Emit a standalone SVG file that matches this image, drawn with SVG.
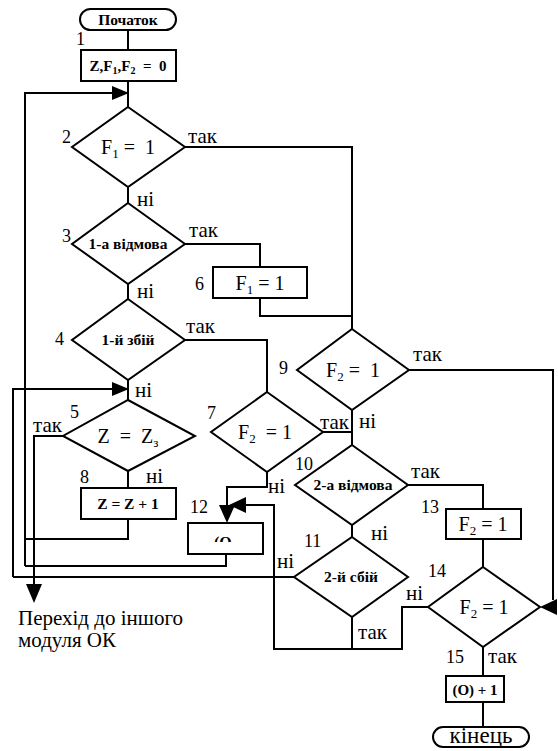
<svg xmlns="http://www.w3.org/2000/svg" width="558" height="751" viewBox="0 0 558 751" font-family="'Liberation Serif','Times New Roman',serif">
<defs>
<style>
.s{fill:none;stroke:#000;stroke-width:2}
.n{fill:#fff;stroke:#000;stroke-width:2}
.ah{fill:#000;stroke:none}
.t{font-family:'Liberation Serif','Times New Roman',serif;fill:#000}
.m{font-size:20px;text-anchor:middle}
.b{font-size:15.5px;font-weight:bold;text-anchor:middle}
.l{font-size:18px}
.y{font-size:21px}
</style>
<clipPath id="c12"><rect x="188" y="535" width="75" height="7"/></clipPath>
</defs>
<rect width="558" height="751" fill="#fff"/>
<g id="connectors">
<line class="s" x1="128" y1="30" x2="128" y2="50"/>
<line class="s" x1="128" y1="81" x2="128" y2="107"/>
<polyline class="s" points="25,566 25,93 114,93"/>
<polygon class="ah" points="129,93 112,86 112,100"/>
<line class="s" x1="128" y1="187" x2="128" y2="203"/>
<line class="s" x1="128" y1="284" x2="128" y2="299"/>
<line class="s" x1="128" y1="380" x2="128" y2="400"/>
<polyline class="s" points="13,577 13,389 114,389"/>
<polygon class="ah" points="129,389 112,382 112,396"/>
<line class="s" x1="128" y1="471" x2="128" y2="488"/>
<polyline class="s" points="128,519 128,539 25,539"/>
<polyline class="s" points="226,554 226,566 25,566"/>
<line class="s" x1="13" y1="577" x2="294" y2="577"/>
<polyline class="s" points="63,436 34,436 34,586"/>
<polygon class="ah" points="34,603 26,584 42,584"/>
<polyline class="s" points="185,147 352,147 352,329"/>
<polyline class="s" points="185,244 260,244 260,267"/>
<polyline class="s" points="260,298 260,316 352,316"/>
<polyline class="s" points="409,370 553,370 553,600"/>
<polygon class="ah" points="540,607 557,599 557,615"/>
<polyline class="s" points="185,340 267,340 267,392"/>
<line class="s" x1="323" y1="432" x2="352" y2="432"/>
<line class="s" x1="352" y1="410" x2="352" y2="445"/>
<polyline class="s" points="408,485 483,485 483,509"/>
<line class="s" x1="483" y1="539" x2="483" y2="567"/>
<line class="s" x1="483" y1="647" x2="483" y2="676"/>
<line class="s" x1="483" y1="702" x2="483" y2="727"/>
<line class="s" x1="352" y1="525" x2="352" y2="537"/>
<line class="s" x1="352" y1="617" x2="352" y2="649"/>
<polyline class="s" points="428,607 402,607 402,649 274,649 274,505 245,505"/>
<polygon class="ah" points="229,505 246,497 246,513"/>
<polyline class="s" points="267,472 267,487 227,487 227,507"/>
<polygon class="ah" points="227,523 219,505 235,505"/>
</g>
<g id="start">
<rect class="n" x="80" y="9" width="96" height="21" rx="10.5"/>
<text class="t b" x="128" y="25">Початок</text>
</g>
<g id="n1">
<rect class="n" x="81" y="50" width="95" height="31"/>
<text class="t l" x="76" y="45">1</text>
<text class="t b" x="128" y="71" style="font-size:15px">Z,F<tspan font-size="10" dy="3">1</tspan><tspan dy="-3">,F</tspan><tspan font-size="10" dy="3">2</tspan><tspan dy="-3"> &#160;= &#160;0</tspan></text>
</g>
<g id="n2">
<polygon class="n" points="128,107 185,147 128,187 72,147"/>
<text class="t l" x="62" y="143">2</text>
<text class="t m" x="128" y="154">F<tspan font-size="13" dy="4">1</tspan><tspan dy="-4"> = &#160;1</tspan></text>
<text class="t y" x="188" y="143">так</text>
<text class="t y" x="137" y="206">ні</text>
</g>
<g id="n3">
<polygon class="n" points="128,203 185,244 128,284 72,244"/>
<text class="t l" x="62" y="242">3</text>
<text class="t b" x="128" y="249">1-а відмова</text>
<text class="t y" x="189" y="237">так</text>
<text class="t y" x="137" y="298">ні</text>
</g>
<g id="n6">
<rect class="n" x="213" y="267" width="94" height="31"/>
<text class="t l" x="195" y="290">6</text>
<text class="t m" x="260" y="290">F<tspan font-size="13" dy="4">1</tspan><tspan dy="-4"> = 1</tspan></text>
</g>
<g id="n4">
<polygon class="n" points="128,299 185,340 128,380 72,340"/>
<text class="t l" x="55" y="345">4</text>
<text class="t b" x="128" y="345">1-й збій</text>
<text class="t y" x="186" y="333">так</text>
<text class="t y" x="135" y="397">ні</text>
</g>
<g id="n5">
<polygon class="n" points="128,400 195,436 128,471 63,436"/>
<text class="t l" x="70" y="418">5</text>
<text class="t y" x="33" y="432">так</text>
<text class="t m" x="128" y="443">Z &#160;= &#160;Z<tspan font-size="13" dy="4">з</tspan></text>
</g>
<g id="n8">
<rect class="n" x="81" y="488" width="95" height="31"/>
<text class="t l" x="80" y="483">8</text>
<text class="t y" x="146" y="483">ні</text>
<text class="t b" x="128" y="509">Z = Z + 1</text>
</g>
<g id="n12">
<rect class="n" x="188" y="523" width="75" height="31"/>
<text class="t l" x="190" y="513">12</text>
<text class="t" x="214" y="548" font-size="16" font-weight="bold" clip-path="url(#c12)">(O</text>
</g>
<g id="exit">
<text class="t y" x="18" y="625">Перехід до іншого</text>
<text class="t y" x="18" y="647">модуля ОК</text>
</g>
<g id="n9">
<polygon class="n" points="352,329 409,370 352,410 297,370"/>
<text class="t l" x="279" y="374">9</text>
<text class="t m" x="353" y="377">F<tspan font-size="13" dy="4">2</tspan><tspan dy="-4"> = &#160;1</tspan></text>
<text class="t y" x="413" y="361">так</text>
<text class="t y" x="359" y="428">ні</text>
</g>
<g id="n7">
<polygon class="n" points="267,392 323,432 267,472 211,432"/>
<text class="t l" x="207" y="419">7</text>
<text class="t m" x="265" y="439">F<tspan font-size="13" dy="4">2</tspan><tspan dy="-4">&#160; = 1</tspan></text>
<text class="t y" x="320" y="429">так</text>
<text class="t y" x="268" y="493">ні</text>
</g>
<g id="n10">
<polygon class="n" points="352,445 408,485 352,525 295,485"/>
<text class="t l" x="295" y="470">10</text>
<text class="t b" x="353" y="490">2-а відмова</text>
<text class="t y" x="411" y="478">так</text>
<text class="t y" x="371" y="540">ні</text>
</g>
<g id="n13">
<rect class="n" x="446" y="509" width="75" height="30"/>
<text class="t l" x="421" y="513">13</text>
<text class="t m" x="483" y="531">F<tspan font-size="13" dy="4">2</tspan><tspan dy="-4"> = 1</tspan></text>
</g>
<g id="n11">
<polygon class="n" points="352,537 408,577 352,617 294,577"/>
<text class="t l" x="304" y="547">11</text>
<text class="t b" x="351" y="582">2-й сбій</text>
<text class="t y" x="277" y="568">ні</text>
<text class="t y" x="358" y="639">так</text>
</g>
<g id="n14">
<polygon class="n" points="483,567 540,607 483,647 428,607"/>
<text class="t l" x="428" y="577">14</text>
<text class="t y" x="406" y="600">ні</text>
<text class="t m" x="484" y="614">F<tspan font-size="13" dy="4">2</tspan><tspan dy="-4"> = 1</tspan></text>
<text class="t y" x="488" y="663">так</text>
</g>
<g id="n15">
<rect class="n" x="446" y="676" width="58" height="26"/>
<text class="t l" x="446" y="663">15</text>
<text class="t b" x="475" y="695" style="font-size:15px">(O) + 1</text>
</g>
<g id="end">
<rect class="n" x="433" y="727" width="96" height="20" rx="10"/>
<text class="t m" x="481" y="743" style="font-size:23px">кінець</text>
</g>
</svg>
